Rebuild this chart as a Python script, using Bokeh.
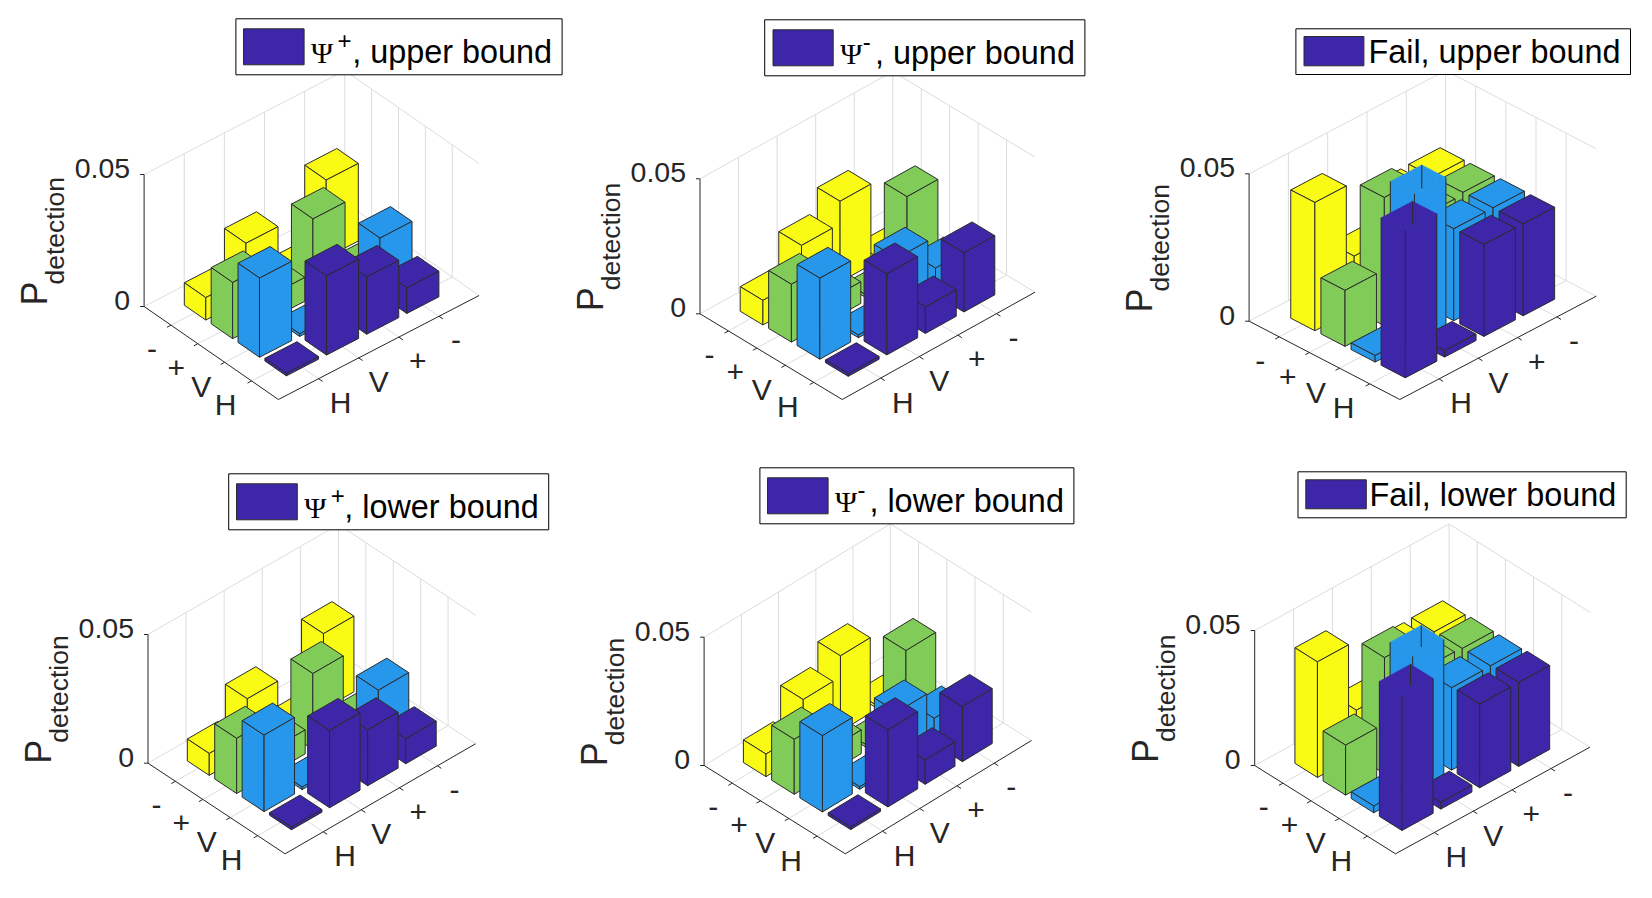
from math import pi
from bokeh.core.properties import value
from bokeh.embed import file_html
from bokeh.layouts import column, row
from bokeh.models import Range1d
from bokeh.plotting import figure
from bokeh.resources import INLINE

# ---- chart content -------------------------------------------------------
left_labels = ["-", "+", "V", "H"]      # along the left floor edge
right_labels = ["H", "V", "+", "-"]     # along the right floor edge
z_ticks = [0, 0.05]
z_tick_labels = ["0", "0.05"]
z_max = 0.05
series_colors = ["#F9FB15", "#81CC59", "#2797EB", "#3E26A8"]  # -, +, V, H rows

# one row per left label, four values per right label (H, V, +, -)
psi_plus_upper_minus = [0.0085, 0.0212, 0.0010, 0.0294]
psi_plus_upper_plus = [0.0213, 0.0090, 0.0296, 0.0015]
psi_plus_upper_v = [0.0300, 0.0010, 0.0095, 0.0215]
psi_plus_upper_h = [0.0010, 0.0300, 0.0217, 0.0097]

psi_minus_upper_minus = [0.0091, 0.0215, 0.0299, 0.0010]
psi_minus_upper_plus = [0.0214, 0.0080, 0.0010, 0.0300]
psi_minus_upper_v = [0.0300, 0.0010, 0.0215, 0.0099]
psi_minus_upper_h = [0.0010, 0.0300, 0.0098, 0.0219]

fail_upper_minus = [0.0435, 0.0183, 0.0310, 0.0312]
fail_upper_plus = [0.0190, 0.0435, 0.0304, 0.0312]
fail_upper_v = [0.0022, 0.0550, 0.0312, 0.0313]
fail_upper_h = [0.0550, 0.0022, 0.0312, 0.0312]

psi_plus_lower_minus = [0.0085, 0.0212, 0.0010, 0.0294]
psi_plus_lower_plus = [0.0214, 0.0093, 0.0295, 0.0015]
psi_plus_lower_v = [0.0297, 0.0010, 0.0095, 0.0215]
psi_plus_lower_h = [0.0010, 0.0300, 0.0217, 0.0097]

psi_minus_lower_minus = [0.0088, 0.0212, 0.0294, 0.0010]
psi_minus_lower_plus = [0.0214, 0.0092, 0.0010, 0.0295]
psi_minus_lower_v = [0.0297, 0.0010, 0.0212, 0.0100]
psi_minus_lower_h = [0.0010, 0.0300, 0.0095, 0.0214]

fail_lower_minus = [0.0428, 0.0170, 0.0300, 0.0302]
fail_lower_plus = [0.0185, 0.0430, 0.0309, 0.0306]
fail_lower_v = [0.0025, 0.0550, 0.0305, 0.0307]
fail_lower_h = [0.0550, 0.0025, 0.0310, 0.0311]

# ---- layout: page pixels --------------------------------------------------
PANELS = [
    dict(name="Ψ", sup="+", tail=", upper bound",
         rows=[psi_plus_upper_minus, psi_plus_upper_plus, psi_plus_upper_v, psi_plus_upper_h],
         L=(143.6, 306.0), top=174.0, B=(277.9, 399.0), R=(478.6, 295.0),
         box=(235.4, 18.3, 561.6, 74.3), sw=(243.0, 28.3, 303.6, 64.3)),
    dict(name="Ψ", sup="-", tail=", upper bound",
         rows=[psi_minus_upper_minus, psi_minus_upper_plus, psi_minus_upper_v, psi_minus_upper_h],
         L=(699.5, 313.3), top=178.3, B=(841.7, 399.0), R=(1034.5, 291.7),
         box=(764.2, 19.3, 1084.4, 75.3), sw=(772.5, 29.3, 832.7, 65.3)),
    dict(name=None, sup=None, tail="Fail, upper bound",
         rows=[fail_upper_minus, fail_upper_plus, fail_upper_v, fail_upper_h],
         L=(1248.6, 320.7), top=173.3, B=(1399.3, 399.0), R=(1595.8, 295.7),
         box=(1295.4, 28.3, 1630.0, 74.0), sw=(1303.5, 36.0, 1363.4, 65.3)),
    dict(name="Ψ", sup="+", tail=", lower bound",
         rows=[psi_plus_lower_minus, psi_plus_lower_plus, psi_plus_lower_v, psi_plus_lower_h],
         L=(147.5, 762.7), top=634.0, B=(284.6, 853.3), R=(475.0, 743.3),
         box=(228.2, 473.3, 548.2, 529.3), sw=(236.0, 483.3, 296.8, 519.3)),
    dict(name="Ψ", sup="-", tail=", lower bound",
         rows=[psi_minus_lower_minus, psi_minus_lower_plus, psi_minus_lower_v, psi_minus_lower_h],
         L=(703.6, 765.0), top=636.7, B=(844.8, 853.3), R=(1031.0, 740.0),
         box=(759.4, 467.3, 1073.4, 523.3), sw=(767.0, 477.3, 827.6, 513.3)),
    dict(name=None, sup=None, tail="Fail, lower bound",
         rows=[fail_lower_minus, fail_lower_plus, fail_lower_v, fail_lower_h],
         L=(1254.2, 765.0), top=630.0, B=(1395.0, 853.3), R=(1589.4, 746.7),
         box=(1297.5, 471.3, 1625.7, 517.3), sw=(1305.3, 479.3, 1365.8, 508.3)),
]
X_CUTS = [(0, 570), (570, 1110), (1110, 1650)]
Y_CUTS = [(0, 460), (460, 896)]

LEFT_DX = [-19, -21.5, -23.5, -26]
RIGHT_DX = [22, 20, 19, 17]
LABEL_DY = 24

AXIS = "#262626"
EDGE = "#2b2b2b"
GRID = "#dcdcdc"
SANS = value("Liberation Sans")
SERIF = value("Liberation Serif")
LIM = 5.0
HALF = 0.4
BASE_FIX = 0.375   # alphabetic baseline correction, in em


def draw_panel(spec, xr, yr):
    p = figure(width=xr[1] - xr[0], height=yr[1] - yr[0], output_backend="svg",
               toolbar_location=None, x_range=Range1d(*xr), y_range=Range1d(yr[1], yr[0]),
               min_border=0, outline_line_color=None, background_fill_color="white",
               border_fill_color="white", x_axis_type=None, y_axis_type=None)
    p.grid.visible = False
    L, B, R = spec["L"], spec["B"], spec["R"]
    height = L[1] - spec["top"]

    def at(a, b, z=0.0):
        x = L[0] + a / LIM * (B[0] - L[0]) + b / LIM * (R[0] - B[0])
        y = L[1] + a / LIM * (B[1] - L[1]) + b / LIM * (R[1] - B[1]) - z / z_max * height
        return x, y

    def seg(lines, *points):
        lines[0].append([q[0] for q in points])
        lines[1].append([q[1] for q in points])

    # walls and floor
    grid = ([], [])
    for k in range(1, 5):
        seg(grid, at(0, k), at(0, k, z_max))
        seg(grid, at(k, LIM), at(k, LIM, z_max))
        seg(grid, at(k, 0), at(k, LIM))
        seg(grid, at(0, k), at(LIM, k))
    seg(grid, at(0, 0), at(0, LIM), at(LIM, LIM))
    seg(grid, at(0, 0, z_max), at(0, LIM, z_max), at(LIM, LIM, z_max))
    seg(grid, at(0, LIM), at(0, LIM, z_max))
    p.multi_line(grid[0], grid[1], line_color=GRID, line_width=1)

    # axes
    axes = ([], [])
    seg(axes, at(0, 0), at(LIM, 0), at(LIM, LIM))
    seg(axes, at(0, 0), at(0, 0, z_max))
    for zt in z_ticks:
        x0, y0 = at(0, 0, zt)
        seg(axes, (x0 - 4, y0), (x0, y0))
    for k in range(1, 5):
        x0, y0 = at(k, 0)
        seg(axes, (x0, y0), (x0 - 4, y0 + 2.2))
        x0, y0 = at(LIM, k)
        seg(axes, (x0, y0), (x0 + 4, y0 + 2.6))
    p.multi_line(axes[0], axes[1], line_color=AXIS, line_width=1)

    # bars, back to front
    for i, vals in enumerate(spec["rows"]):
        a = i + 1.0
        for j in range(3, -1, -1):
            b = j + 1.0
            v = vals[j]
            color = series_colors[i]
            z = min(v, z_max)
            clipped = v > z_max
            top = [at(a - HALF, b - HALF, z), at(a + HALF, b - HALF, z),
                   at(a + HALF, b + HALF, z), at(a - HALF, b + HALF, z)]
            face1 = [at(a - HALF, b - HALF), at(a + HALF, b - HALF),
                     at(a + HALF, b - HALF, z), at(a - HALF, b - HALF, z)]
            face2 = [at(a + HALF, b - HALF), at(a + HALF, b + HALF),
                     at(a + HALF, b + HALF, z), at(a + HALF, b - HALF, z)]
            if clipped:
                faces = [top, face1, face2]
                p.patches([[q[0] for q in f] for f in faces], [[q[1] for q in f] for f in faces],
                          fill_color=color, line_color=color, line_width=0.5)
                lines = ([], [])
                seg(lines, at(a - HALF, b - HALF, z), at(a - HALF, b - HALF),
                    at(a + HALF, b - HALF), at(a + HALF, b + HALF), at(a + HALF, b + HALF, z))
                seg(lines, at(a + HALF, b - HALF), at(a + HALF, b - HALF, z))
                seg(lines, at(a - HALF, b + HALF, z), at(a - HALF, b + HALF, 0.042))
                p.multi_line(lines[0], lines[1], line_color=EDGE, line_width=1)
            else:
                faces = [top, face1, face2]
                p.patches([[q[0] for q in f] for f in faces], [[q[1] for q in f] for f in faces],
                          fill_color=color, line_color=EDGE, line_width=1)

    # tick labels
    for k, label in enumerate(left_labels):
        x0, y0 = at(k + 1, 0)
        p.text([x0 + LEFT_DX[k]], [y0 + LABEL_DY], text=[label], text_font=SANS, text_font_size="30px",
               text_color=AXIS, text_align="center", text_baseline="middle")
    for k, label in enumerate(right_labels):
        x0, y0 = at(LIM, k + 1)
        p.text([x0 + RIGHT_DX[k]], [y0 + LABEL_DY], text=[label], text_font=SANS, text_font_size="30px",
               text_color=AXIS, text_align="center", text_baseline="middle")
    for zt, label in zip(z_ticks, z_tick_labels):
        x0, y0 = at(0, 0, zt)
        p.text([x0 - 14], [y0 - 6], text=[label], text_font=SANS, text_font_size="28.5px",
               text_color=AXIS, text_align="right", text_baseline="middle")

    # z label
    start = (L[1] + spec["top"]) / 2 + 65
    p.text([L[0] - 96 - 36 * BASE_FIX], [start], text=["P"], text_font=SANS, text_font_size="36px",
           text_color=AXIS, angle=pi / 2, text_align="left", text_baseline="alphabetic")
    p.text([L[0] - 79 - 26.5 * BASE_FIX], [start - 21], text=["detection"], text_font=SANS,
           text_font_size="26.5px", text_color=AXIS, angle=pi / 2, text_align="left",
           text_baseline="alphabetic")

    # legend
    bx0, by0, bx1, by1 = spec["box"]
    sx0, sy0, sx1, sy1 = spec["sw"]
    p.quad(left=[bx0], right=[bx1], top=[by0], bottom=[by1], fill_color="white", line_color="black", line_width=1)
    p.quad(left=[sx0], right=[sx1], top=[sy0], bottom=[sy1], fill_color=series_colors[3], line_color=EDGE, line_width=1)
    base = by1 - 10.5
    if spec["name"]:
        p.text([sx1 + 7], [base - 30 * BASE_FIX - 1], text=[spec["name"]], text_font=SERIF, text_font_size="30px",
               text_color="black", text_align="left", text_baseline="alphabetic")
        sup_dx = 40.5 if spec["sup"] == "+" else 33.5
        p.text([sx1 + sup_dx], [base - 15 - 24 * BASE_FIX], text=[spec["sup"]], text_font=SANS,
               text_font_size="24px", text_color="black", text_align="center", text_baseline="alphabetic")
    p.text([bx1 - 10], [base - 32.4 * BASE_FIX], text=[spec["tail"]], text_font=SANS, text_font_size="32.4px",
           text_color="black", text_align="right", text_baseline="alphabetic")
    return p


figs = []
for r, yr in enumerate(Y_CUTS):
    cells = [draw_panel(PANELS[r * 3 + c], xr, yr) for c, xr in enumerate(X_CUTS)]
    figs.append(row(*cells, spacing=0))
page = column(*figs, spacing=0)
open("out.html", "w").write(file_html(page, INLINE))
